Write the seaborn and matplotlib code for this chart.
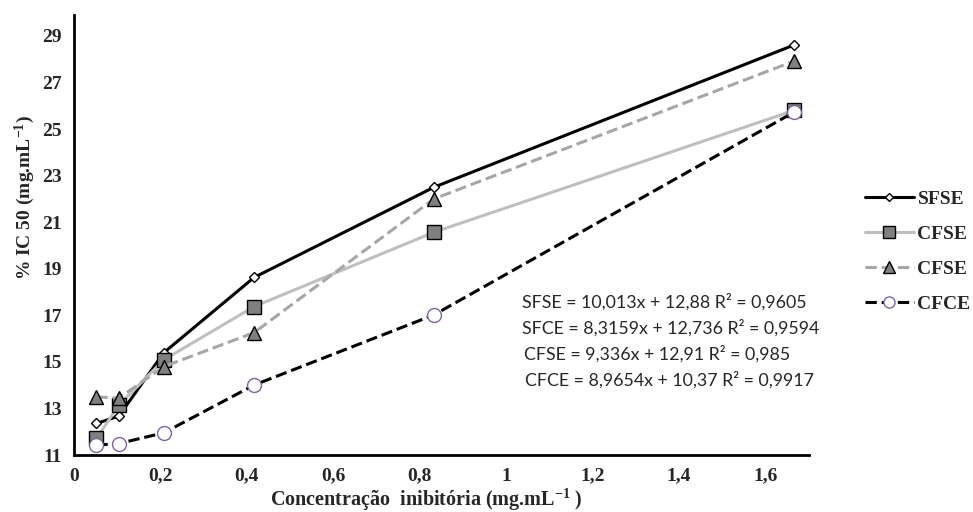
import numpy as np
import pandas as pd
import matplotlib
matplotlib.use("Agg")
import matplotlib.pyplot as plt
from matplotlib.lines import Line2D
import seaborn as sns

# data
conc = [0.052, 0.104, 0.208, 0.417, 0.833, 1.667]
sfse = [12.36, 12.68, 15.40, 18.63, 22.50, 28.61]
cfse_sq = [11.72, 13.15, 15.09, 17.38, 20.57, 25.80]
cfse_tri = [13.50, 13.45, 14.80, 16.26, 22.00, 27.92]
cfce = [11.43, 11.50, 11.96, 14.01, 17.02, 25.73]

labels = ["SFSE", "CFSE", "CFSE", "CFCE"]
equations = [
    "SFSE = 10,013x + 12,88 R² = 0,9605",
    "SFCE = 8,3159x + 12,736 R² = 0,9594",
    "CFSE = 9,336x + 12,91 R² = 0,985",
    "CFCE = 8,9654x + 10,37 R² = 0,9917",
]

sns.set_style("white")
plt.rcParams['font.family'] = ['Liberation Serif', 'DejaVu Serif']
plt.rcParams['mathtext.fontset'] = 'custom'
plt.rcParams['mathtext.rm'] = 'Liberation Serif:bold'
plt.rcParams['mathtext.default'] = 'rm'

fig = plt.figure(figsize=(9.73, 5.12), dpi=100)
ax = fig.add_axes([0.076, 0.111, 0.755, 0.86])

styles = [
    dict(y=sfse, color="black", ls="-", marker="D", ms=5, mfc="white", mec="black", lw=2.2),
    dict(y=cfse_sq, color="#BFBFBF", ls="-", marker="s", ms=10, mfc="#808080", mec="black", lw=2.2),
    dict(y=cfse_tri, color="#A6A6A6", ls="--", marker="^", ms=10, mfc="#808080", mec="black", lw=2.2),
    dict(y=cfce, color="black", ls="--", marker="o", ms=10, mfc="white", mec="#8064A2", lw=2.2),
]

handles = []
for lab, st in zip(labels, styles):
    df = pd.DataFrame({"x": conc, "y": st["y"]})
    sns.lineplot(data=df, x="x", y="y", ax=ax, color=st["color"], linestyle=st["ls"],
                 linewidth=st["lw"], marker=st["marker"], markersize=st["ms"],
                 markerfacecolor=st["mfc"], markeredgecolor=st["mec"], markeredgewidth=1.0)
    handles.append(Line2D([], [], color=st["color"], linestyle=st["ls"], linewidth=st["lw"],
                          marker=st["marker"], markersize=st["ms"] * 0.8,
                          markerfacecolor=st["mfc"], markeredgecolor=st["mec"],
                          markeredgewidth=1.0))

ax.set_xlim(0, 1.7)
ax.set_ylim(11, 29.9)
ax.set_xticks([0, 0.2, 0.4, 0.6, 0.8, 1.0, 1.2, 1.4, 1.6])
ax.set_xticklabels(["0", "0,2", "0,4", "0,6", "0,8", "1", "1,2", "1,4", "1,6"])
ax.set_yticks(np.arange(11, 30, 2))

for s in ["top", "right"]:
    ax.spines[s].set_visible(False)
for s in ["left", "bottom"]:
    ax.spines[s].set_linewidth(2)
    ax.spines[s].set_color("black")
ax.tick_params(axis="both", direction="out", length=5, width=2, labelsize=14, pad=4)
for t in ax.get_xticklabels() + ax.get_yticklabels():
    t.set_fontweight("bold")

ax.set_xlabel("Concentração  inibitória (mg.mL$^{-1}$ )", fontsize=14.5, fontweight="bold")
ax.set_ylabel("% IC 50 (mg.mL$^{-1}$)", fontsize=14, fontweight="bold")
ax.xaxis.set_label_coords((426 - 74) / 735, -(500 - 455) / 440, transform=ax.transAxes)
ax.xaxis.label.set_va("center")
ax.yaxis.set_label_coords(-(74 - 25) / 735, (455 - 198) / 440, transform=ax.transAxes)
ax.yaxis.label.set_va("center")

eq_y = [301.7, 328, 354, 380]
eq_x = [522, 522, 524, 525]
for txt, px, py in zip(equations, eq_x, eq_y):
    fig.text(px / 973, 1 - py / 512, txt, fontsize=12.8, family=["Lato", "DejaVu Sans"],
             ha="left", va="center")

leg = fig.legend(handles, labels, loc="upper left", bbox_to_anchor=(865 / 973, 1 - 190 / 512),
                 frameon=False, handlelength=2.5, handletextpad=0.2, labelspacing=0.9,
                 borderpad=0, borderaxespad=0,
                 prop={"family": "Liberation Serif", "weight": "bold", "size": 14})

fig.savefig("out.png", dpi=100)
